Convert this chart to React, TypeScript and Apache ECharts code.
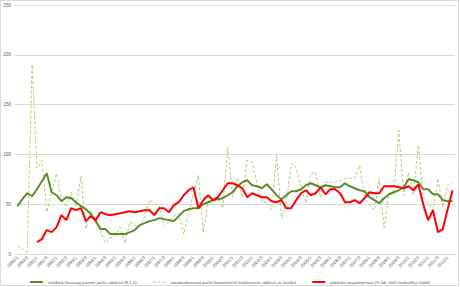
import React, { useEffect, useRef } from "react";
import * as echarts from "echarts";

const startYear = 1990;
const quarterCount = 90;
const categories: string[] = Array.from({ length: quarterCount }, (_, i) => `${startYear + Math.floor(i / 4)}/${(i % 4) + 1}`);

const movingAverage: number[] = [
  48, 55, 61, 58, 65, 73, 81, 62, 59, 53,
  57, 56, 52, 48, 45, 40, 33, 25, 25, 20,
  20, 20, 20, 22, 24, 29, 31, 33, 34, 36,
  35, 34, 33, 38, 43, 45, 46, 46, 50, 52,
  54, 55, 56, 59, 62, 68, 72, 74, 69, 68,
  66, 70, 65, 59, 55, 59, 63, 63, 65, 69,
  71, 69, 67, 69, 68, 67, 67, 71, 68, 66,
  64, 63, 57, 54, 51, 56, 60, 62, 64, 67,
  75, 74, 72, 65, 65, 60, 60, 54, 53, 53,
];

const standardizedEvents: number[] = [
  8, 5, 2, 190, 86, 94, 42, 62, 81, 55,
  47, 62, 48, 78, 25, 44, 34, 22, 11, 16,
  18, 27, 11, 32, 29, 27, 38, 54, 51, 48,
  28, 32, 38, 41, 20, 42, 60, 79, 22, 54,
  55, 57, 46, 107, 57, 76, 57, 94, 92, 71,
  52, 52, 44, 99, 36, 52, 91, 87, 67, 51,
  81, 82, 57, 72, 72, 72, 74, 76, 76, 76,
  89, 57, 49, 44, 76, 26, 61, 64, 124, 59,
  82, 59, 109, 57, 51, 44, 76, 47, 69, 72,
];

const politicalDiscontent: (number | null)[] = [
  null, null, null, null, 12, 15, 24, 22, 27, 39,
  34, 46, 44, 46, 33, 38, 34, 42, 40, 39,
  40, 41, 42, 43, 42, 43, 44, 44, 39, 46,
  46, 42, 49, 52, 59, 64, 67, 46, 54, 59,
  54, 57, 64, 71, 71, 69, 66, 57, 61, 59,
  57, 57, 53, 52, 54, 46, 46, 54, 61, 64,
  59, 61, 67, 60, 65, 65, 61, 52, 52, 54,
  51, 56, 62, 61, 61, 68, 68, 68, 67, 66,
  68, 64, 70, 50, 34, 44, 22, 25, 45, 64,
];

const seriesNames: string[] = [
  "středový klouzavý průměr počtu událostí (E 1.0)",
  "standardizovaný počet konvenčních kolektivních událostí za čtvrtletí",
  "politická nespokojenost (% lidí, kteří nedůvěřují vládě)",
];

const yTicks = { min: 0, max: 250, interval: 50 };

export default function App() {
  const ref = useRef<HTMLDivElement>(null);
  useEffect(() => {
    if (!ref.current) return;
    const chart = echarts.init(ref.current, null, { renderer: "svg" });
    const font = "Liberation Sans, Arial, sans-serif";
    chart.setOption({
      animation: false,
      backgroundColor: "#ffffff",
      textStyle: { fontFamily: font },
      graphic: [
        {
          type: "rect",
          shape: { x: 0.5, y: 0.5, width: 458, height: 285 },
          style: { fill: "none", stroke: "#d9d9d9", lineWidth: 1 },
          silent: true,
        },
      ],
      grid: { left: 15, right: 5, top: 5, bottom: 33, containLabel: false },
      legend: {
        top: 275,
        left: "center",
        itemWidth: 13,
        itemHeight: 6,
        itemGap: 16,
        textStyle: { fontSize: 4.2, color: "#595959", fontFamily: font },
        data: [
          { name: seriesNames[0], icon: "path://M0,0H13V2H0Z" },
          { name: seriesNames[1], icon: "path://M0,0H3V1H0ZM5,0H8V1H5ZM10,0H13V1H10Z" },
          { name: seriesNames[2], icon: "path://M0,0H13V2H0Z" },
        ],
      },
      xAxis: {
        type: "category",
        data: categories,
        boundaryGap: true,
        axisLine: { show: true, lineStyle: { color: "#d9d9d9" } },
        axisTick: { show: false },
        axisLabel: {
          interval: 1,
          rotate: 45,
          fontSize: 4.5,
          color: "#595959",
          margin: 3,
        },
      },
      yAxis: {
        type: "value",
        min: yTicks.min,
        max: yTicks.max,
        interval: yTicks.interval,
        axisLine: { show: false },
        axisTick: { show: false },
        splitLine: { lineStyle: { color: "#d9d9d9", width: 1 } },
        axisLabel: { fontSize: 4.5, color: "#595959", margin: 4 },
      },
      series: [
        {
          name: seriesNames[0],
          type: "line",
          data: movingAverage,
          showSymbol: false,
          symbol: "none",
          lineStyle: { color: "#5e8a2c", width: 2 },
          itemStyle: { color: "#5e8a2c" },
          z: 3,
        },
        {
          name: seriesNames[1],
          type: "line",
          data: standardizedEvents,
          showSymbol: false,
          symbol: "none",
          lineStyle: { color: "#add07a", width: 1, type: [3, 2] },
          itemStyle: { color: "#add07a" },
          z: 2,
        },
        {
          name: seriesNames[2],
          type: "line",
          data: politicalDiscontent,
          showSymbol: false,
          symbol: "none",
          connectNulls: false,
          lineStyle: { color: "#ff0000", width: 2 },
          itemStyle: { color: "#ff0000" },
          z: 4,
        },
      ],
    });
    return () => chart.dispose();
  }, []);
  return (
    <div
      ref={ref}
      style={{ position: "absolute", left: 0, top: 0, width: 460, height: 287 }}
    />
  );
}
